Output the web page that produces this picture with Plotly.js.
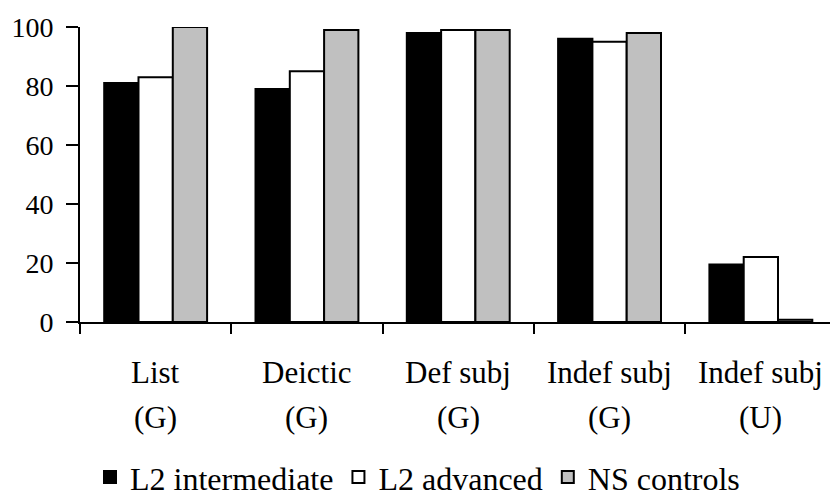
<!DOCTYPE html>
<html>
<head>
<meta charset="utf-8">
<script src="https://cdn.plot.ly/plotly-3.0.1.min.js"></script>
<style>html,body{margin:0;padding:0;background:#fff;}#chart{width:830px;height:496px;}</style>
</head>
<body>
<div id="chart"></div>
<script>
const categories = ["List", "Deictic", "Def subj", "Indef subj", "Indef subj"];
const subLabels = ["(G)", "(G)", "(G)", "(G)", "(U)"];
const seriesNames = ["L2 intermediate", "L2 advanced", "NS controls"];
const l2Intermediate = [81, 79, 98, 96, 19.5];
const l2Advanced = [83, 85, 99, 95, 22];
const nsControls = [100, 99, 99, 98, 0.8];
const yTicks = [0, 20, 40, 60, 80, 100];

const idx = categories.map((_, i) => i);
const fills = ["#000000", "#ffffff", "#c0c0c0"];
const values = [l2Intermediate, l2Advanced, nsControls];
const FONT = "Liberation Serif";

const traces = values.map((v, k) => ({
  type: "bar", name: seriesNames[k], x: idx, y: v,
  marker: {color: fills[k], line: {color: "#000", width: 2}}, hoverinfo: "skip"
}));
// carrier for the reference line at 100 on an overlaid axis
traces.push({type: "scatter", x: [0], y: [0], yaxis: "y2", showlegend: false, mode: "none", hoverinfo: "skip"});

const boundaries = idx.map(i => i - 0.5).concat([idx.length - 0.5]);

const annotations = [];
categories.forEach((c, i) => {
  annotations.push({x: i, y: -0.17, xref: "x", yref: "paper", text: c, showarrow: false,
    xanchor: "center", yanchor: "middle", font: {family: FONT, size: 31, color: "#000"}});
  annotations.push({x: i, y: -0.323, xref: "x", yref: "paper", text: subLabels[i], showarrow: false,
    xanchor: "center", yanchor: "middle", font: {family: FONT, size: 31, color: "#000"}});
});

const layout = {
  width: 830, height: 496,
  margin: {l: 80, r: 0, t: 27, b: 174, pad: 0, autoexpand: false},
  paper_bgcolor: "#fff", plot_bgcolor: "rgba(0,0,0,0)",
  barmode: "group", bargap: 0.32, bargroupgap: 0,
  font: {family: FONT, size: 28, color: "#000"},
  showlegend: true,
  legend: {orientation: "h", x: 0.0133, xanchor: "left", y: -0.433, yanchor: "top",
    font: {family: FONT, size: 32, color: "#000"}, itemwidth: 30, tracegroupgap: 0, traceorder: "normal"},
  xaxis: {range: [-0.5, 4.457], tickmode: "array", tickvals: boundaries, showticklabels: false,
    ticks: "outside", ticklen: 10, tickwidth: 2, tickcolor: "#000", automargin: false,
    showline: true, linecolor: "#000", linewidth: 2, showgrid: false, zeroline: false, fixedrange: true},
  yaxis: {range: [0, 100], tickmode: "array", tickvals: yTicks, ticks: "outside", ticklen: 12,
    tickwidth: 2, tickcolor: "#000", showline: true, linecolor: "#000", linewidth: 2, ticklabelstandoff: 7,
    automargin: false, showgrid: false, zeroline: false, tickfont: {family: FONT, size: 28, color: "#000"}, fixedrange: true},
  yaxis2: {overlaying: "y", range: [0, 100], tickmode: "array", tickvals: [100], showticklabels: false,
    ticks: "", showgrid: true, gridcolor: "#8a8a8a", gridwidth: 2, showline: false, zeroline: false, fixedrange: true},
  annotations: annotations
};

Plotly.newPlot("chart", traces, layout, {staticPlot: true, displayModeBar: false});
</script>
</body>
</html>
